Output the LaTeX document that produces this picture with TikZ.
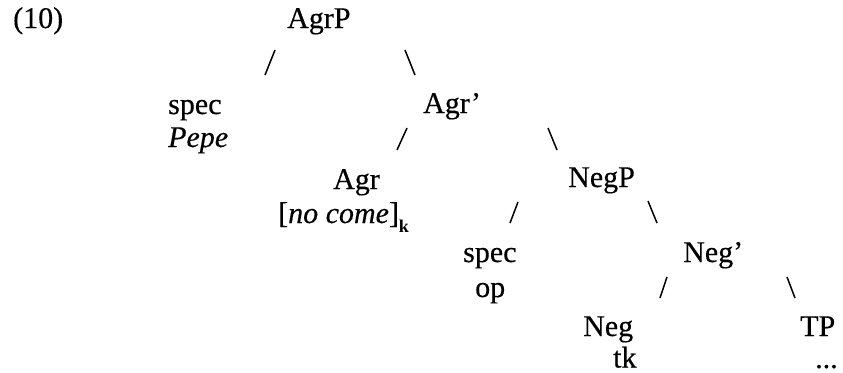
\documentclass[tikz,border=0pt]{standalone}
\usepackage{fontspec}
\setmainfont{Liberation Serif}[UprightFeatures={FakeBold=0.4},ItalicFeatures={FakeBold=0.4}]
\newlength{\du}
\setlength{\du}{10pt}

\begin{document}
\begin{tikzpicture}[lbl/.style={anchor=base west, inner sep=0pt, font=\fontsize{30}{36}\selectfont},
                    branch/.style={line width=1.5pt, line cap=butt}]
\pgftransformxscale{1.000000}
\pgftransformyscale{-1.000000}
\definecolor{dialinecolor}{rgb}{0.000000, 0.000000, 0.000000}
\pgfsetstrokecolor{dialinecolor}
\useasboundingbox (0.000000\du,0.000000\du) rectangle (84.300000\du,37.200000\du);
% example number
\node[lbl] (exnum) at (1.300000\du,2.800000\du) {(10)};
% labels, row by row
\node[lbl] (agrp) at (28.700000\du,2.800000\du) {AgrP};
\node[lbl] (spec1) at (16.800000\du,11.400000\du) {spec};
\node[lbl] (pepe) at (16.800000\du,14.700000\du) {\itshape Pepe};
\node[lbl] (agrbar) at (42.300000\du,11.300000\du) {Agr'};
\node[lbl] (agr) at (33.300000\du,18.900000\du) {Agr};
\node[lbl] (nocome) at (27.800000\du,22.300000\du) {[\textit{no come}]\raisebox{-9pt}{\fontsize{18}{18}\selectfont\bfseries k}};
\node[lbl] (negp) at (56.800000\du,18.700000\du) {NegP};
\node[lbl] (spec2) at (46.300000\du,26.200000\du) {spec};
\node[lbl] (op) at (47.500000\du,29.700000\du) {op};
\node[lbl] (negbar) at (68.300000\du,26.200000\du) {Neg'};
\node[lbl] (neg) at (58.300000\du,33.600000\du) {Neg};
\node[lbl] (tk) at (61.300000\du,36.750000\du) {tk};
\node[lbl] (tp) at (80.000000\du,33.600000\du) {TP};
\node[lbl] (dots) at (81.500000\du,36.800000\du) {...};
% branch ends
\coordinate (agrp-l1) at (27.500000\du,5.000000\du);
\coordinate (agrp-l2) at (26.500000\du,7.500000\du);
\coordinate (agrp-r1) at (40.500000\du,5.000000\du);
\coordinate (agrp-r2) at (41.500000\du,7.500000\du);
\coordinate (agrbar-l1) at (40.700000\du,12.800000\du);
\coordinate (agrbar-l2) at (39.700000\du,15.000000\du);
\coordinate (agrbar-r1) at (54.800000\du,12.800000\du);
\coordinate (agrbar-r2) at (55.700000\du,15.000000\du);
\coordinate (negp-l1) at (51.800000\du,20.200000\du);
\coordinate (negp-l2) at (51.000000\du,22.300000\du);
\coordinate (negp-r1) at (64.800000\du,20.100000\du);
\coordinate (negp-r2) at (65.700000\du,22.300000\du);
\coordinate (negbar-l1) at (66.700000\du,27.700000\du);
\coordinate (negbar-l2) at (66.000000\du,29.800000\du);
\coordinate (negbar-r1) at (78.700000\du,27.700000\du);
\coordinate (negbar-r2) at (79.500000\du,29.800000\du);
% branches
\draw[branch] (agrp-l1)--(agrp-l2);
\draw[branch] (agrp-r1)--(agrp-r2);
\draw[branch] (agrbar-l1)--(agrbar-l2);
\draw[branch] (agrbar-r1)--(agrbar-r2);
\draw[branch] (negp-l1)--(negp-l2);
\draw[branch] (negp-r1)--(negp-r2);
\draw[branch] (negbar-l1)--(negbar-l2);
\draw[branch] (negbar-r1)--(negbar-r2);
\end{tikzpicture}
\end{document}
